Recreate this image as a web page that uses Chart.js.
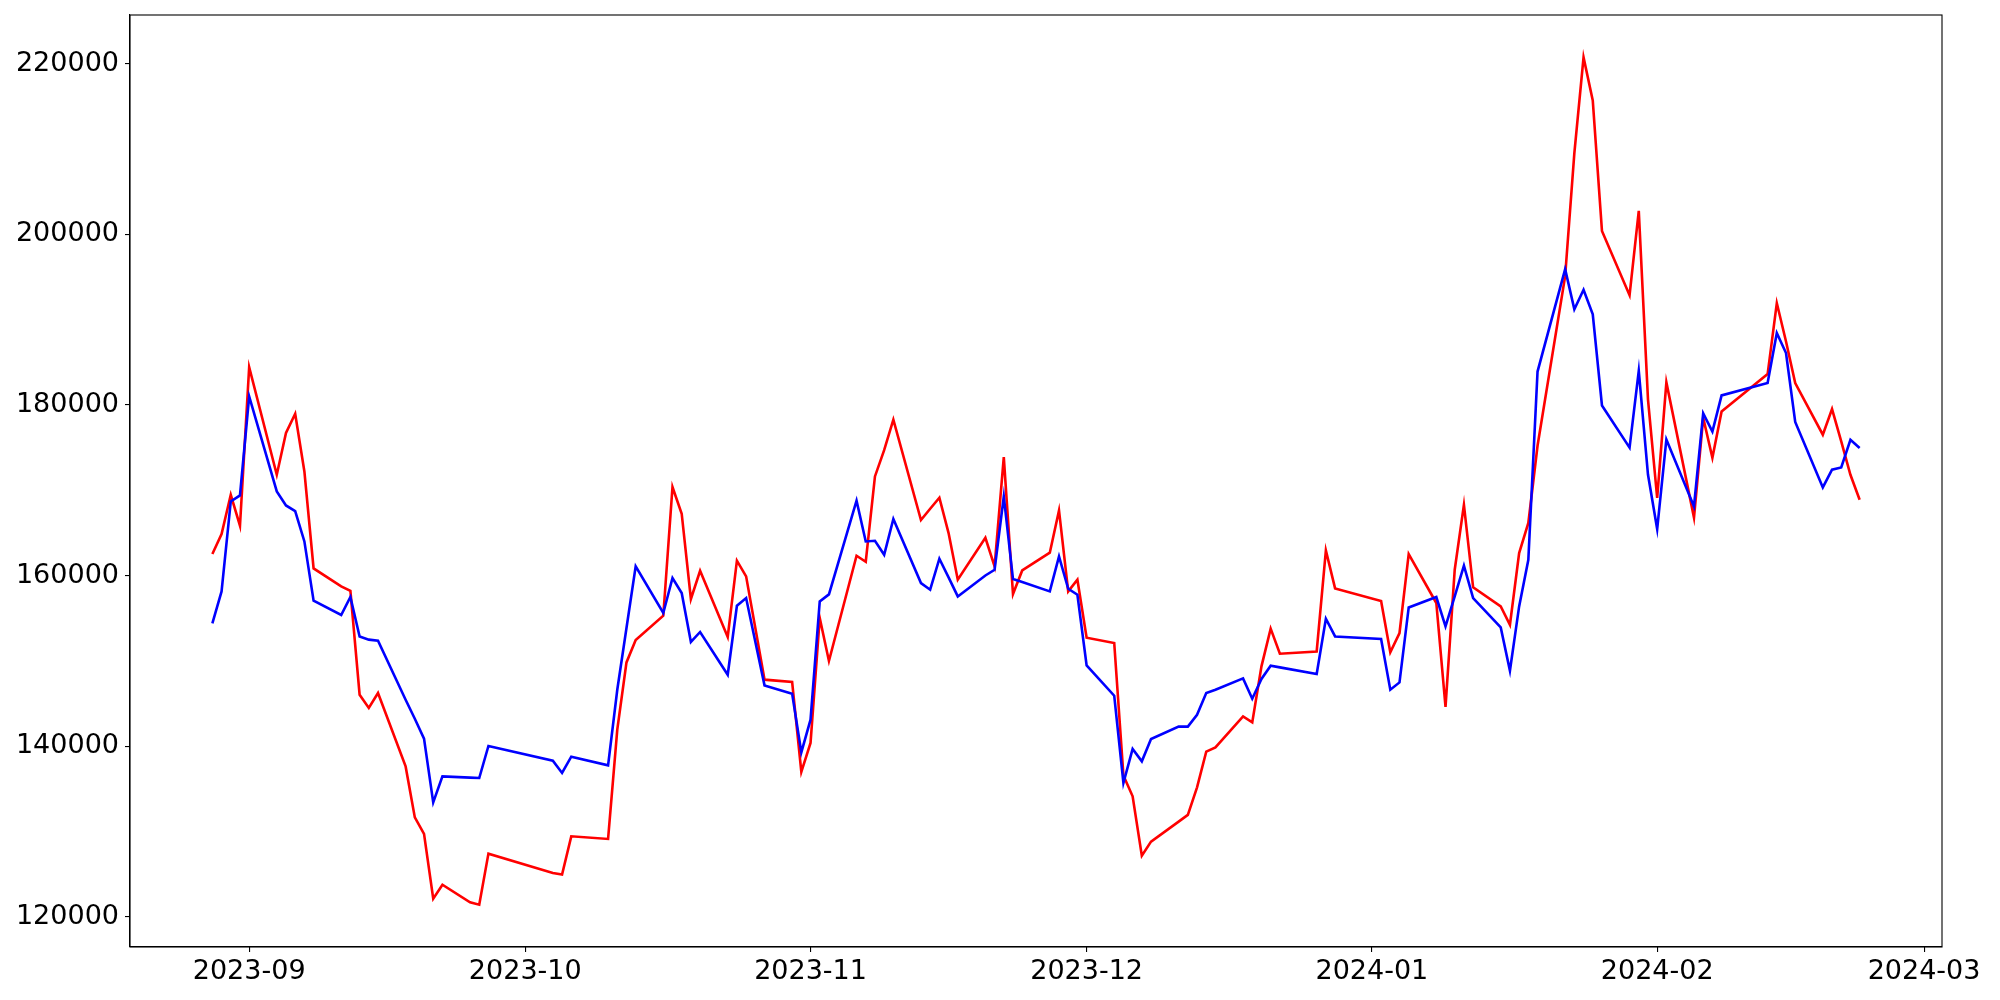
<!DOCTYPE html>
<html>
<head>
<meta charset="utf-8">
<script src="https://cdn.jsdelivr.net/npm/chart.js@4.4.1/dist/chart.umd.min.js"></script>
<style>
  html, body { margin: 0; padding: 0; background: #fff; }
  canvas { display: block; }
</style>
</head>
<body>
<canvas id="chart" width="2000" height="1000"></canvas>
<script>
const dates = [
  "2023-08-28", "2023-08-29", "2023-08-30", "2023-08-31", "2023-09-01",
  "2023-09-04", "2023-09-05", "2023-09-06", "2023-09-07", "2023-09-08",
  "2023-09-11", "2023-09-12", "2023-09-13", "2023-09-14", "2023-09-15",
  "2023-09-18", "2023-09-19", "2023-09-20", "2023-09-21", "2023-09-22",
  "2023-09-25", "2023-09-26", "2023-09-27",
  "2023-10-04", "2023-10-05", "2023-10-06",
  "2023-10-10", "2023-10-11", "2023-10-12", "2023-10-13",
  "2023-10-16", "2023-10-17", "2023-10-18", "2023-10-19", "2023-10-20",
  "2023-10-23", "2023-10-24", "2023-10-25", "2023-10-26", "2023-10-27",
  "2023-10-30", "2023-10-31", "2023-11-01", "2023-11-02", "2023-11-03",
  "2023-11-06", "2023-11-07", "2023-11-08", "2023-11-09", "2023-11-10",
  "2023-11-13", "2023-11-14", "2023-11-15", "2023-11-16", "2023-11-17",
  "2023-11-20", "2023-11-21", "2023-11-22", "2023-11-23", "2023-11-24",
  "2023-11-27", "2023-11-28", "2023-11-29", "2023-11-30", "2023-12-01",
  "2023-12-04", "2023-12-05", "2023-12-06", "2023-12-07", "2023-12-08",
  "2023-12-11", "2023-12-12", "2023-12-13", "2023-12-14", "2023-12-15",
  "2023-12-18", "2023-12-19", "2023-12-20", "2023-12-21", "2023-12-22",
  "2023-12-26", "2023-12-27", "2023-12-28",
  "2024-01-02", "2024-01-03", "2024-01-04", "2024-01-05",
  "2024-01-08", "2024-01-09", "2024-01-10", "2024-01-11", "2024-01-12",
  "2024-01-15", "2024-01-16", "2024-01-17", "2024-01-18", "2024-01-19",
  "2024-01-22", "2024-01-23", "2024-01-24", "2024-01-25", "2024-01-26",
  "2024-01-29", "2024-01-30", "2024-01-31", "2024-02-01", "2024-02-02",
  "2024-02-05", "2024-02-06", "2024-02-07", "2024-02-08",
  "2024-02-13", "2024-02-14", "2024-02-15", "2024-02-16",
  "2024-02-19", "2024-02-20", "2024-02-21", "2024-02-22", "2024-02-23"
];

const redValues = [
  162520, 164870, 169470, 165840, 184440,
  171820, 176710, 178970, 172200, 160830,
  158720, 158200, 146030, 144470, 146230,
  137620, 131640, 129700, 122110, 123750,
  121680, 121410, 127390,
  125130, 124930, 129420,
  129110, 141930, 149810, 152450,
  155290, 170380, 167250, 157250, 160560,
  152790, 161740, 159900, 153850, 147790,
  147520, 136970, 140370, 155020, 149980,
  162320, 161620, 171620, 174700, 178270,
  166510, 167830, 169120, 164980, 159510,
  164430, 161070, 173890, 157830, 160600,
  162680, 167630, 158140, 159510, 152710,
  152090, 136550, 134110, 127150, 128800,
  131140, 131930, 135160, 139350, 139850,
  143480, 142780, 149350, 153770, 150830,
  151100, 162940, 158490,
  157010, 151000, 153260, 162520,
  156780, 144590, 160680, 168300, 158610,
  156380, 154230, 162640, 166160, 175220,
  195100, 209540, 220760, 215700, 200410,
  192870, 202760, 180660, 169110, 182650,
  166790, 178500, 173800, 179240,
  183620, 191950, 187450, 182570,
  176510, 179520, 175720, 171820, 168890
];

const blueValues = [
  154390, 158140, 168690, 169390, 181000,
  169860, 168220, 167560, 164000, 157050,
  155370, 157480, 152850, 152480, 152360,
  145440, 143210, 140870, 133400, 136450,
  136300, 136260, 140010,
  138290, 136850, 138760,
  137740, 146610, 153850, 161070,
  155610, 159710, 157950, 152210, 153380,
  148370, 156460, 157360, 152240, 147120,
  146150, 139260, 143100, 156970, 157790,
  168770, 164000, 164080, 162440, 166630,
  159120, 158340, 161970, 159780, 157550,
  160010, 160680, 169270, 159590, 159240,
  158140, 162240, 158450, 157750, 149460,
  145910, 135680, 139660, 138210, 140830,
  142280, 142280, 143680, 146230, 146610,
  147940, 145560, 147870, 149430, 149230,
  148450, 154940, 152860,
  152560, 146610, 147470, 156260,
  157480, 154040, 157550, 161150, 157360,
  153920, 148840, 156380, 161850, 183920,
  195930, 191210, 193510, 190620, 179940,
  175000, 184000, 171840, 165450, 175960,
  168100, 179020, 176890, 181120,
  182570, 188430, 186090, 178000,
  170330, 172410, 172670, 175920, 174950
];

const xTickLabels = ["2023-09", "2023-10", "2023-11", "2023-12", "2024-01", "2024-02", "2024-03"];
const yTickValues = [120000, 140000, 160000, 180000, 200000, 220000];

function toTime(s) {
  const p = s.split("-").map(Number);
  return Date.UTC(p[0], p[1] - 1, p[2] || 1);
}

const xs = dates.map(toTime);
const xTickValues = xTickLabels.map(toTime);

// 5% margins around the data, like matplotlib's autoscale
const xMin = Math.min(...xs), xMax = Math.max(...xs);
const xPad = (xMax - xMin) * 0.05;
const allY = redValues.concat(blueValues);
const yMin = Math.min(...allY), yMax = Math.max(...allY);
const yPad = (yMax - yMin) * 0.05;

const font = { family: "'DejaVu Sans', sans-serif", size: 27, lineHeight: 1 };

const frame = {
  id: "frame",
  afterDraw(chart) {
    const a = chart.chartArea;
    const ctx = chart.ctx;
    ctx.save();
    ctx.strokeStyle = "#000";
    ctx.lineWidth = 1.1;
    ctx.strokeRect(a.left, a.top, a.right - a.left, a.bottom - a.top);
    ctx.restore();
  },
};

new Chart(document.getElementById("chart"), {
  type: "line",
  data: {
    datasets: [
      {
        label: "blue",
        data: xs.map((x, i) => ({ x, y: blueValues[i] })),
        borderColor: "#0000ff",
        borderWidth: 2.6,
        pointRadius: 0,
        tension: 0,
      },
      {
        label: "red",
        data: xs.map((x, i) => ({ x, y: redValues[i] })),
        borderColor: "#ff0000",
        borderWidth: 2.6,
        pointRadius: 0,
        tension: 0,
      },
    ],
  },
  options: {
    responsive: false,
    animation: false,
    devicePixelRatio: 1,
    layout: { padding: { left: 0, right: 58, top: 15, bottom: 0 } },
    plugins: { legend: { display: false }, tooltip: { enabled: false } },
    scales: {
      x: {
        type: "linear",
        min: xMin - xPad,
        max: xMax + xPad,
        afterBuildTicks: (scale) => { scale.ticks = xTickValues.map((v) => ({ value: v })); },
        afterFit: (scale) => {
          scale.height = 53;
          scale.paddingLeft = 0;
          scale.paddingRight = 0;
        },
        ticks: {
          color: "#000",
          font,
          padding: 6,
          maxRotation: 0,
          autoSkip: false,
          callback: (v) => {
            const i = xTickValues.indexOf(v);
            return i >= 0 ? xTickLabels[i] : "";
          },
        },
        grid: { display: true, drawOnChartArea: false, drawTicks: true, tickLength: 5, color: "#000", lineWidth: 1.1 },
        border: { display: true, color: "#000", width: 1.1 },
      },
      y: {
        type: "linear",
        min: yMin - yPad,
        max: yMax + yPad,
        afterBuildTicks: (scale) => { scale.ticks = yTickValues.map((v) => ({ value: v })); },
        afterFit: (scale) => {
          scale.width = 130;
          scale.paddingTop = 0;
          scale.paddingBottom = 0;
        },
        ticks: {
          color: "#000",
          font,
          padding: 6,
          callback: (v) => String(v),
        },
        grid: { display: true, drawOnChartArea: false, drawTicks: true, tickLength: 5, color: "#000", lineWidth: 1.1 },
        border: { display: true, color: "#000", width: 1.1 },
      },
    },
  },
  plugins: [frame],
});
</script>
</body>
</html>
